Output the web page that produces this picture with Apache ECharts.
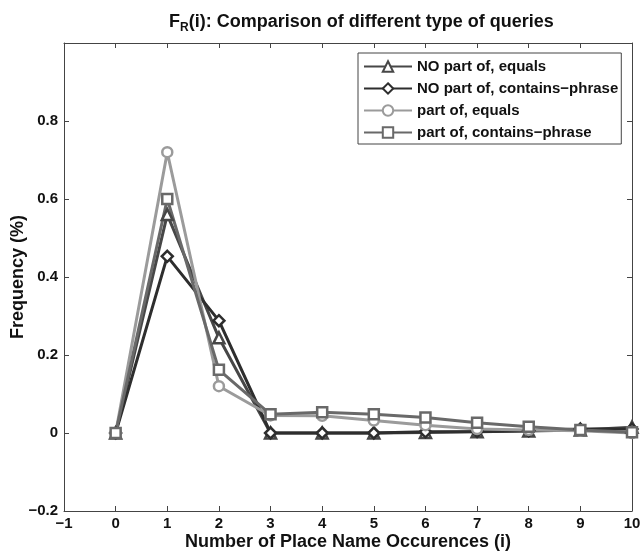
<!DOCTYPE html>
<html>
<head>
<meta charset="utf-8">
<script src="https://cdn.jsdelivr.net/npm/echarts@6/dist/echarts.min.js"></script>
<style>
  html, body { margin: 0; padding: 0; background: #fff; }
  #chart { width: 641px; height: 554px; }
</style>
</head>
<body>
<div id="chart"></div>
<script>
// occurrences i = 0..10
var occurrences = [0, 1, 2, 3, 4, 5, 6, 7, 8, 9, 10];
var noPartEquals = [0, 0.56, 0.244, 0, 0, 0, 0.001, 0.003, 0.005, 0.008, 0.015];
var noPartContains = [0, 0.453, 0.288, 0, 0, 0, 0.003, 0.004, 0.006, 0.01, 0.01];
var partEquals = [0, 0.72, 0.12, 0.045, 0.044, 0.032, 0.02, 0.01, 0.008, 0.006, 0];
var partContains = [0, 0.60, 0.162, 0.048, 0.053, 0.048, 0.040, 0.026, 0.016, 0.008, 0.002];
var seriesNames = ['NO part of, equals', 'NO part of, contains\u2212phrase', 'part of, equals', 'part of, contains\u2212phrase'];

var font = 'Liberation Sans, Arial, sans-serif';

function pairs(vals) {
  return occurrences.map(function (x, i) { return [x, vals[i]]; });
}

function mkSeries(name, vals, color, symbol, size) {
  return {
    name: name,
    type: 'line',
    data: pairs(vals),
    symbol: symbol,
    symbolSize: size,
    lineStyle: { color: color, width: 3 },
    itemStyle: { color: '#fff', borderColor: color, borderWidth: 2.5 },
    emphasis: { disabled: true },
    animation: false
  };
}

var chart = echarts.init(document.getElementById('chart'));
chart.setOption({
  backgroundColor: '#fff',
  title: {
    text: '{a|F}{sub|R}{a|(i): Comparison of different type of queries}',
    left: 164,
    top: 6,
    textStyle: {
      rich: {
        a: { fontFamily: font, fontWeight: 'bold', fontSize: 18, color: '#111' },
        sub: { fontFamily: font, fontWeight: 'bold', fontSize: 12, color: '#111', padding: [11, 0, 0, 0] }
      }
    }
  },
  legend: {
    orient: 'vertical',
    left: 358,
    top: 53,
    padding: [6, 3, 4, 5],
    itemGap: 7,
    itemWidth: 48,
    itemHeight: 13,
    backgroundColor: '#fff',
    borderColor: '#444',
    borderWidth: 1,
    borderRadius: 0,
    textStyle: { fontFamily: font, fontWeight: 'bold', fontSize: 15, color: '#111' },
    data: seriesNames
  },
  grid: { left: 64, right: 9, top: 43, bottom: 43, outerBoundsMode: 'none', containLabel: false },
  xAxis: [{
    type: 'value',
    min: -1,
    max: 10,
    interval: 1,
    name: 'Number of Place Name Occurences (i)',
    nameLocation: 'middle',
    nameGap: 22,
    nameMoveOverlap: false,
    nameTextStyle: { fontFamily: font, fontWeight: 'bold', fontSize: 18, color: '#111' },
    axisLine: { onZero: false, lineStyle: { color: '#444', width: 1 } },
    axisTick: { inside: true, length: 5, lineStyle: { color: '#444' } },
    axisLabel: { fontFamily: font, fontWeight: 'bold', fontSize: 15, color: '#111', margin: 5,
      formatter: function (v) { return String(v).replace('-', '\u2212'); } },
    splitLine: { show: false }
  }, {
    type: 'value',
    position: 'top',
    min: -1,
    max: 10,
    interval: 1,
    axisLine: { onZero: false, lineStyle: { color: '#444', width: 1 } },
    axisTick: { inside: true, length: 5, lineStyle: { color: '#444' } },
    axisLabel: { show: false },
    splitLine: { show: false }
  }],
  yAxis: [{
    type: 'value',
    min: -0.2,
    max: 1,
    interval: 0.2,
    name: 'Frequency (%)',
    nameLocation: 'middle',
    nameGap: 37,
    nameMoveOverlap: false,
    nameTextStyle: { fontFamily: font, fontWeight: 'bold', fontSize: 18, color: '#111' },
    axisLine: { show: true, onZero: false, lineStyle: { color: '#444', width: 1 } },
    axisTick: { show: true, inside: true, length: 5, lineStyle: { color: '#444' } },
    axisLabel: { fontFamily: font, fontWeight: 'bold', fontSize: 15, color: '#111', margin: 6,
      formatter: function (v) {
        var r = Math.round(v * 10) / 10;
        if (r >= 1) return '';
        if (r === 0) return '0';
        return r.toFixed(1).replace('-', '\u2212');
      } },
    splitLine: { show: false }
  }, {
    type: 'value',
    position: 'right',
    min: -0.2,
    max: 1,
    interval: 0.2,
    axisLine: { show: true, onZero: false, lineStyle: { color: '#444', width: 1 } },
    axisTick: { show: true, inside: true, length: 5, lineStyle: { color: '#444' } },
    axisLabel: { show: false },
    splitLine: { show: false }
  }],
  series: [
    mkSeries(seriesNames[0], noPartEquals, '#474747', 'triangle', 11),
    mkSeries(seriesNames[1], noPartContains, '#2e2e2e', 'diamond', 11),
    mkSeries(seriesNames[2], partEquals, '#9b9b9b', 'circle', 10),
    mkSeries(seriesNames[3], partContains, '#696969', 'rect', 10)
  ]
});
</script>
</body>
</html>
